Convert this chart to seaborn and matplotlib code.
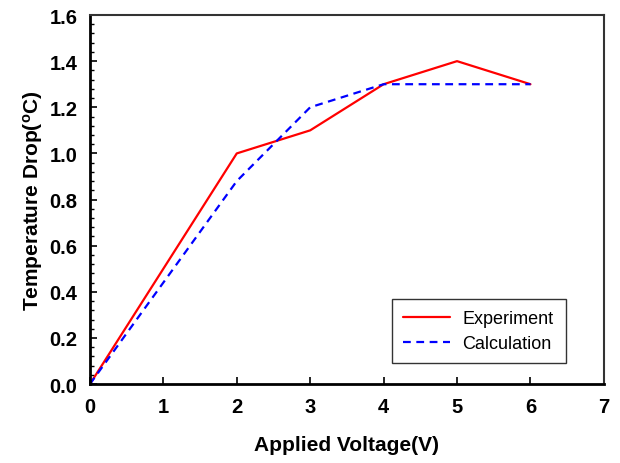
import pandas as pd
import seaborn as sns
import matplotlib.pyplot as plt
from matplotlib.ticker import MultipleLocator

voltage = [0, 2, 3, 4, 5, 6]
experiment = [0.0, 1.0, 1.1, 1.3, 1.4, 1.3]
calculation = [0.0, 0.88, 1.2, 1.3, 1.3, 1.3]

df = pd.DataFrame({
    'voltage': voltage * 2,
    'drop': experiment + calculation,
    'series': ['Experiment'] * len(voltage) + ['Calculation'] * len(voltage),
})

sns.set_style('white')
plt.rcParams['font.family'] = ['Liberation Sans', 'DejaVu Sans']
plt.rcParams['text.color'] = 'black'
plt.rcParams['xtick.color'] = 'black'
plt.rcParams['ytick.color'] = 'black'
plt.rcParams['axes.labelcolor'] = 'black'

fig = plt.figure(figsize=(6.2, 4.64), dpi=100)
ax = fig.add_axes([0.145, 0.170, 0.829, 0.7955])

sns.lineplot(x='voltage', y='drop', hue='series', style='series', data=df, ax=ax,
             palette={'Experiment': '#ff0000', 'Calculation': '#0000ff'},
             dashes={'Experiment': '', 'Calculation': (3.5, 2.5)},
             linewidth=1.6)

ax.set_xlim(0, 7)
ax.set_ylim(0, 1.6)
ax.xaxis.set_major_locator(MultipleLocator(1))
ax.yaxis.set_major_locator(MultipleLocator(0.2))
ax.yaxis.set_minor_locator(MultipleLocator(0.04))
ax.yaxis.set_major_formatter(plt.FormatStrFormatter('%.1f'))
ax.tick_params(axis='both', which='major', direction='in', length=5, width=1.2,
               labelsize=14.5, left=True, bottom=True, pad=9)
ax.tick_params(axis='y', which='minor', direction='in', length=3, width=1, left=True)
for lab in ax.get_xticklabels() + ax.get_yticklabels():
    lab.set_fontweight('bold')

for side in ['left', 'bottom']:
    ax.spines[side].set_linewidth(2)
    ax.spines[side].set_color('black')
for side in ['top', 'right']:
    ax.spines[side].set_linewidth(1.5)
    ax.spines[side].set_color('#333333')

ax.set_xlabel('Applied Voltage(V)', fontsize=15, fontweight='bold', labelpad=14)
ax.set_ylabel('Temperature Drop($\\mathregular{^oC}$)', fontsize=15, fontweight='bold', labelpad=3)

leg = ax.legend(loc='lower left', bbox_to_anchor=(0.588, 0.057, 0.338, 0.173),
                mode='expand', borderaxespad=0, fontsize=13, frameon=True, fancybox=False,
                edgecolor='black', handlelength=2.6, handletextpad=0.7,
                borderpad=0.6, labelspacing=0.45)
leg.get_frame().set_linewidth(1)

fig.savefig('out.png', dpi=100)
